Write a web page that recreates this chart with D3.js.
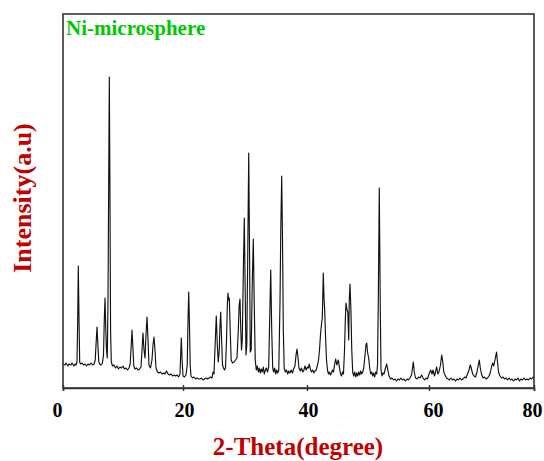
<!DOCTYPE html>
<html>
<head>
<meta charset="utf-8">
<script src="https://cdn.jsdelivr.net/npm/d3@7/dist/d3.min.js"></script>
<style>
  html, body { margin: 0; padding: 0; background: #fff; }
  svg { display: block; }
  text { font-family: "Liberation Serif", "Times New Roman", serif; font-weight: bold; }
</style>
</head>
<body>
<svg id="chart" width="544" height="461"></svg>
<script>
// ---- data ----
const sampleLabel = "Ni-microsphere";
const xTitle = "2-Theta(degree)";
const yTitle = "Intensity(a.u)";
const xTickValues = [0, 20, 40, 60, 80];
const xTickLabels = ["0", "20", "40", "60", "80"];

const twoTheta = [
  0.00,0.33,0.50,0.83,1.00,1.33,1.50,1.83,2.00,2.17,2.33,2.45,2.55,2.67,2.78,2.92,3.17,3.42,3.67,3.92,
  4.17,4.42,4.67,4.92,5.17,5.37,5.50,5.67,5.83,5.97,6.13,6.33,6.58,6.75,6.88,7.00,7.13,7.25,7.38,7.50,
  7.62,7.72,7.83,7.93,8.05,8.25,8.50,8.75,9.00,9.25,9.50,9.75,10.00,10.25,10.50,10.75,11.00,11.20,11.37,11.50,
  11.63,11.80,12.00,12.25,12.50,12.75,13.00,13.17,13.33,13.50,13.67,13.83,14.00,14.17,14.33,14.58,14.83,15.00,15.17,15.33,
  15.50,15.75,16.00,16.25,16.50,16.75,17.00,17.25,17.50,17.75,18.00,18.25,18.50,18.75,19.00,19.25,19.50,19.58,19.72,19.85,
  20.00,20.24,20.48,20.68,20.81,20.92,21.03,21.16,21.29,21.53,21.77,22.02,22.26,22.50,22.74,22.98,23.23,23.47,23.71,23.95,
  24.19,24.44,24.68,24.84,25.00,25.21,25.37,25.53,25.69,25.85,25.94,26.08,26.23,26.37,26.53,26.69,26.85,27.02,27.15,27.26,
  27.37,27.47,27.61,27.77,27.98,28.23,28.47,28.71,28.92,29.06,29.19,29.32,29.44,29.56,29.76,29.89,30.03,30.16,30.29,30.45,
  30.60,30.73,30.85,31.00,31.18,31.34,31.48,31.65,31.82,31.98,32.15,32.31,32.47,32.63,32.79,32.95,33.11,33.27,33.44,33.63,
  33.82,33.98,34.15,34.31,34.47,34.63,34.79,34.95,35.11,35.27,35.45,35.65,35.77,35.92,36.05,36.18,36.32,36.50,36.69,36.89,
  37.06,37.26,37.45,37.65,37.84,38.06,38.23,38.39,38.55,38.71,38.92,39.11,39.31,39.50,39.68,39.87,
  40.07,40.23,40.38,40.54,40.74,40.93,41.13,41.31,41.51,41.72,41.89,42.05,42.21,42.41,42.51,42.67,42.80,42.90,43.03,43.20,
  43.36,43.52,43.69,43.85,44.02,44.18,44.34,44.51,44.70,44.89,45.13,45.33,45.49,45.66,45.82,45.98,46.15,46.28,46.39,46.56,
  46.69,46.84,46.93,47.05,47.20,47.34,47.49,47.66,47.82,47.98,48.15,48.31,48.48,48.64,48.80,48.97,49.13,49.30,49.51,49.67,
  49.79,49.92,50.11,50.28,50.44,50.61,50.77,50.93,51.10,51.26,51.43,51.56,51.69,51.85,52.00,52.13,52.30,52.46,52.62,52.87,
  53.07,53.25,53.44,53.69,53.93,54.18,54.43,54.67,54.92,55.16,55.41,55.66,55.90,56.15,56.39,56.64,56.89,57.13,57.30,57.43,
  57.59,57.79,58.03,58.28,58.52,58.80,59.02,59.26,59.51,59.75,60.00,
  60.32,60.57,60.76,61.05,61.33,61.47,61.68,61.90,62.19,62.42,62.63,62.82,63.05,63.33,63.62,63.90,64.19,64.48,64.76,65.05,
  65.33,65.62,65.90,66.19,66.48,66.76,67.05,67.33,67.62,67.85,68.00,68.13,68.32,68.57,68.86,69.14,69.39,69.58,69.77,70.00,
  70.29,70.57,70.86,71.14,71.43,71.71,71.94,72.13,72.32,72.57,72.86,73.05,73.24,73.52,73.81,74.10,74.38,74.67,74.95,75.24,
  75.52,75.81,76.10,76.38,76.67,76.95,77.24,77.52,77.81,78.10,78.38,78.67,78.95,79.24,79.52,79.81,80.00
];

const intensity = [
  240,230,250,220,240,230,250,220,240,230,260,680,1220,680,260,240,250,230,240,220,
  240,230,250,230,240,280,430,610,410,260,240,230,250,330,680,900,580,380,300,880,
  2080,3110,1880,580,260,220,230,200,220,190,210,200,220,190,200,180,200,240,430,580,
  430,220,190,200,180,190,210,380,550,380,300,530,710,480,230,200,280,430,510,380,
  200,160,150,160,140,150,140,170,140,130,140,120,130,120,130,110,140,280,500,280,
  120,110,130,230,680,960,680,230,120,100,110,90,100,90,90,100,80,90,100,90,
  100,110,100,160,140,480,720,430,260,380,580,760,480,230,200,180,200,480,830,950,
  880,900,580,280,250,260,280,300,580,830,890,580,380,480,1280,1700,980,330,430,1380,
  2350,1380,360,380,1080,1490,880,280,180,220,160,200,150,190,160,210,140,180,200,160,
  210,680,1180,580,200,160,200,140,180,150,180,880,1580,2120,1480,580,200,160,180,140,
  170,150,180,150,190,220,330,390,300,200,170,200,160,180,220,180,
  210,200,240,190,160,180,150,170,180,230,280,380,530,660,700,1150,880,780,530,280,
  180,140,160,130,150,180,160,230,290,230,280,200,140,120,160,140,380,680,850,780,
  760,480,880,1040,780,380,160,120,160,110,150,120,160,130,170,140,160,200,330,430,
  450,360,300,200,140,160,120,150,110,160,140,230,880,2000,880,180,120,150,140,200,
  240,180,120,90,100,80,90,70,90,80,100,80,90,70,90,80,100,130,200,260,
  160,100,90,110,100,130,100,80,100,90,140,
  180,140,180,120,180,210,140,160,230,330,260,160,130,100,90,80,100,80,90,70,
  90,80,100,80,90,110,100,140,180,230,210,180,140,120,110,160,230,280,200,140,
  100,110,90,100,120,160,220,250,220,280,360,260,160,120,100,110,90,100,80,100,
  80,90,70,90,80,100,70,90,80,100,80,90,80,100,90,110,100
];

// ---- layout ----
const W = 544, H = 461;
const plotLeft = 63, plotRight = 534, plotTop = 14, plotBottom = 388;
const tickLabelShift = [-6, 1, 1, 4, -2];

const svg = d3.select("#chart");

const x = d3.scaleLinear()
  .domain(xTickValues)
  .range([plotLeft, 183, 307, 429, plotRight]);

const y = d3.scaleLinear()
  .domain([0, 3740])
  .range([plotBottom, plotTop]);

const points = twoTheta.map((t, i) => ({ t, v: intensity[i] }));

// spectrum line
const line = d3.line()
  .x(d => x(d.t))
  .y(d => y(d.v));

svg.append("path")
  .datum(points)
  .attr("fill", "none")
  .attr("stroke", "#111")
  .attr("stroke-width", 1.15)
  .attr("stroke-linejoin", "round")
  .attr("d", line);

// frame
svg.append("rect")
  .attr("x", plotLeft)
  .attr("y", plotTop)
  .attr("width", plotRight - plotLeft)
  .attr("height", plotBottom - plotTop)
  .attr("fill", "none")
  .attr("stroke", "#333")
  .attr("stroke-width", 1.6);

// bottom axis
const xAxis = d3.axisBottom(x)
  .tickValues(xTickValues)
  .tickFormat((d, i) => xTickLabels[i])
  .tickSize(3)
  .tickPadding(12);

const gx = svg.append("g")
  .attr("transform", `translate(0,${plotBottom})`)
  .call(xAxis);
gx.select(".domain").attr("stroke", "#333").attr("stroke-width", 1.6);
gx.selectAll(".tick line").attr("y1", -3).attr("y2", 3).attr("stroke", "#333").attr("stroke-width", 1.4);
gx.selectAll(".tick text")
  .attr("fill", "#000")
  .attr("dx", (d, i) => tickLabelShift[i])
  .style("font-family", '"Liberation Serif", "Times New Roman", serif')
  .style("font-weight", "bold")
  .style("font-size", "20px");

// sample label
svg.append("text")
  .attr("x", 66)
  .attr("y", 35)
  .attr("fill", "#00c800")
  .style("font-size", "21px")
  .text(sampleLabel);

// axis titles
svg.append("text")
  .attr("x", 298)
  .attr("y", 455)
  .attr("text-anchor", "middle")
  .attr("fill", "#c00000")
  .style("font-size", "25px")
  .text(xTitle);

svg.append("text")
  .attr("transform", "translate(31,198) rotate(-90)")
  .attr("text-anchor", "middle")
  .attr("fill", "#c00000")
  .style("font-size", "26px")
  .text(yTitle);
</script>
</body>
</html>
